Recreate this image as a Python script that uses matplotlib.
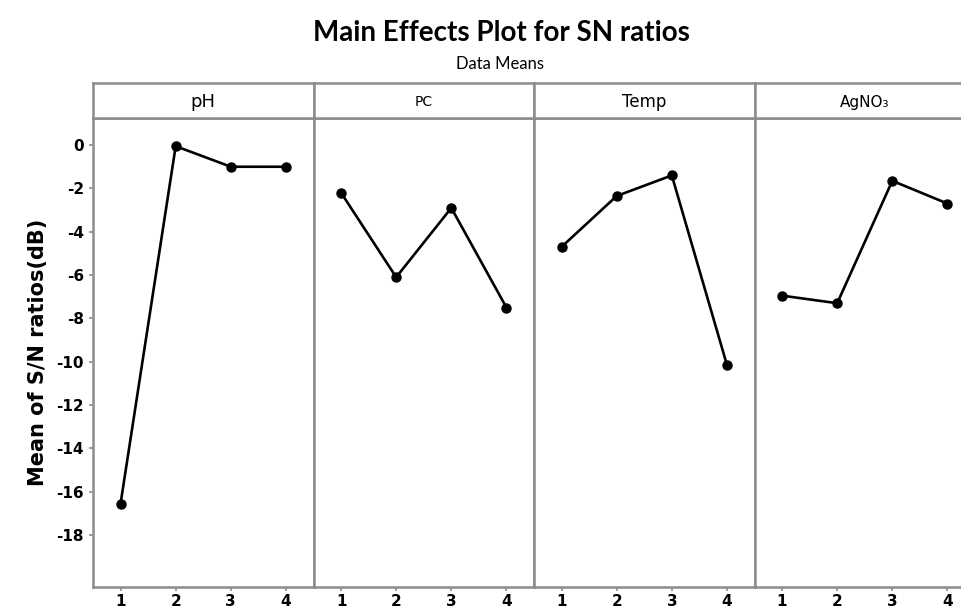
from matplotlib import pyplot as plt

factors = ['pH', 'PC', 'Temp', 'AgNO₃']
levels = [1, 2, 3, 4]
ph_sn = [-16.55, -0.05, -1.0, -1.0]
pc_sn = [-2.2, -6.1, -2.9, -7.5]
temp_sn = [-4.7, -2.35, -1.4, -10.15]
agno3_sn = [-6.95, -7.3, -1.65, -2.7]
yticks = [0, -2, -4, -6, -8, -10, -12, -14, -16, -18]

series = [ph_sn, pc_sn, temp_sn, agno3_sn]
strip_sizes = [13, 10, 12, 11]

W, H = 961, 613
grey = '#8c8c8c'
fig = plt.figure(figsize=(W / 100, H / 100), dpi=100)
plt.rcParams['font.family'] = ['Lato', 'DejaVu Sans']

x0 = 93
pw = 220.5
top, bot, strip_top = 118, 587, 83

for i, name in enumerate(factors):
    left = (x0 + i * pw) / W
    ax = fig.add_axes([left, (H - bot) / H, pw / W, (bot - top) / H])
    ax.plot(levels, series[i], color='black', lw=1.9, marker='o', ms=6.5)
    ax.set_xlim(0.5, 4.5)
    ax.set_ylim(-20.4, 1.25)
    ax.set_xticks(levels)
    ax.set_xticklabels([str(v) for v in levels], fontsize=11, fontweight='bold',
                       family='DejaVu Sans')
    for s in ax.spines.values():
        s.set_color(grey)
        s.set_linewidth(1.8)
    ax.tick_params(axis='x', colors=grey, labelcolor='black', length=3, width=1.2, pad=2)
    if i == 0:
        ax.set_yticks(yticks)
        ax.set_yticklabels([str(v) for v in yticks], fontsize=11, fontweight='bold',
                           family='DejaVu Sans')
        ax.tick_params(axis='y', colors=grey, labelcolor='black', length=3, width=1.2)
        ax.set_ylabel('Mean of S/N ratios(dB)', fontsize=15, fontweight='bold',
                      family='DejaVu Sans', labelpad=6)
    else:
        ax.set_yticks([])

    # strip header
    sx = fig.add_axes([left, (H - top) / H, pw / W, (top - strip_top) / H])
    sx.set_xticks([])
    sx.set_yticks([])
    for s in sx.spines.values():
        s.set_color(grey)
        s.set_linewidth(1.8)
    sx.text(0.5, 0.45, name, ha='center', va='center', fontsize=strip_sizes[i],
            family='DejaVu Sans', transform=sx.transAxes)

fig.text(501 / W, 1 - 33 / H, 'Main Effects Plot for SN ratios', ha='center', va='center',
         fontsize=20, fontweight='bold')
fig.text(500 / W, 1 - 64 / H, 'Data Means', ha='center', va='center', fontsize=12)

plt.savefig('out.png', dpi=100)
